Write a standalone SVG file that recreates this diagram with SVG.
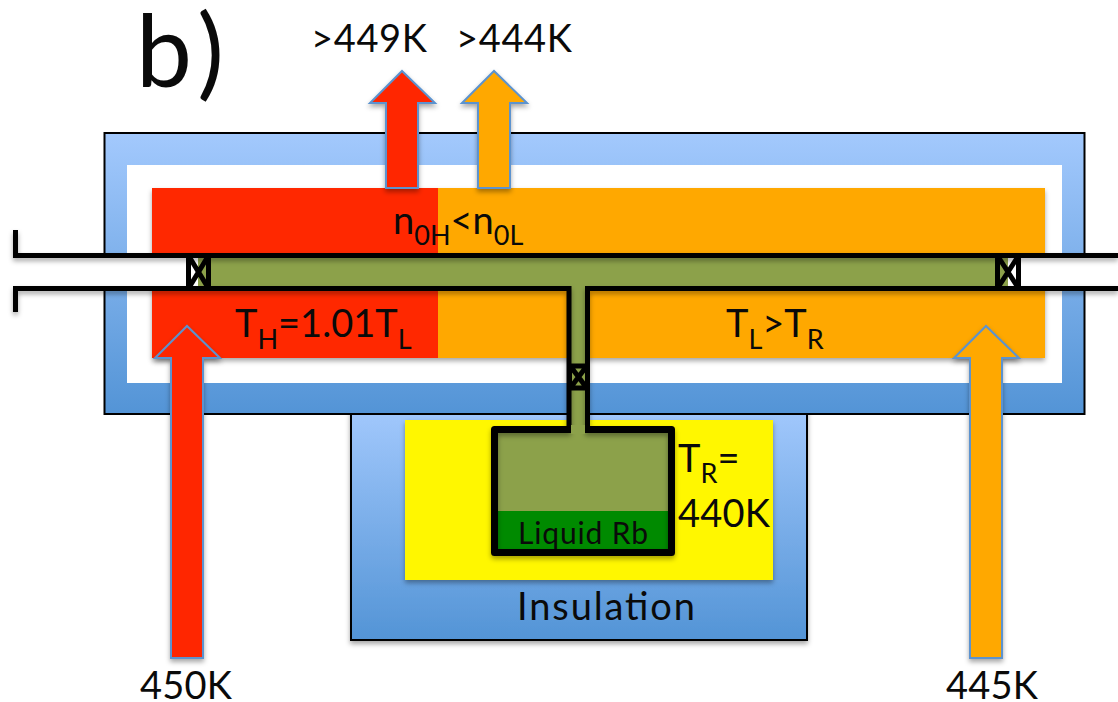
<svg xmlns="http://www.w3.org/2000/svg" width="1118" height="702" viewBox="0 0 1118 702">
<style>
text{font-family:"Lato","Open Sans","Liberation Sans",sans-serif;fill:#0a0a0a}
.t{font-size:38px}.s{font-size:27px}
.ar{stroke:#5b93cf;stroke-width:2;filter:url(#sh)}
.red{fill:#ff2800}.or{fill:#ffa800}.ol{fill:#8ca14a}
.ln{stroke:#000;fill:none}
</style>
<defs>
<linearGradient id="bl" x1="0" y1="0" x2="0" y2="1"><stop offset="0" stop-color="#a3c9fd"/><stop offset="1" stop-color="#5394d6"/></linearGradient>
<filter id="sh" x="-20%" y="-20%" width="140%" height="140%"><feDropShadow dx="0" dy="3" stdDeviation="2.500" flood-color="#000" flood-opacity=".35"/></filter>
</defs>
<rect width="1118" height="702" fill="#fff"/>
<g id="insulation-block"><rect x="351" y="405" width="456" height="235" fill="url(#bl)" stroke="#000" stroke-width="2" filter="url(#sh)"/></g>
<g id="oven"><rect x="104.500" y="133" width="980" height="281" fill="url(#bl)" stroke="#000" stroke-width="2"/>
<rect x="127" y="165" width="935" height="218" fill="#fff"/></g>
<g id="hot-zone"><rect x="152" y="188" width="893" height="170" class="or" filter="url(#sh)"/><rect x="152" y="188" width="286" height="170" class="red"/></g>
<g id="reservoir-heater"><rect x="405" y="420" width="368" height="160" fill="#fff700" filter="url(#sh)"/></g>
<g id="tube"><rect x="13" y="258" width="1105" height="28" fill="#fff"/><rect x="198" y="258" width="810" height="28" class="ol"/><rect x="571" y="284" width="14" height="150" class="ol"/>
<path class="ln" stroke-width="5" filter="url(#sh)" d="M15.500 230V255.500H1118M15.500 312V288.500H569V430M1118 288.500H587.500V430"/></g>
<g id="reservoir"><rect x="494.500" y="429.500" width="177" height="123" rx="2" class="ol"/><rect x="498" y="511" width="170" height="38" fill="#008a00"/>
<path class="ln" stroke-width="7" stroke-linejoin="round" filter="url(#sh)" d="M571 429.500H494.500V552.500H671.500V429.500H585"/><rect x="571" y="425" width="14" height="9" class="ol"/></g>
<g id="valves">
<g id="valve-left"><path class="ln" stroke-width="5" d="M188.500 256V288M208.500 256V288M190 258L207 286M207 258L190 286"/></g>
<g id="valve-right"><path class="ln" stroke-width="5" d="M997.500 254V288M1018.500 254V288M999 258L1017 286M1017 258L999 286"/></g>
<g id="valve-stem"><rect x="567" y="364" width="23" height="26" class="ol"/><path class="ln" stroke-width="5" d="M569.500 364V390M587.500 364V390M569 366H588M569 388H588M571 367L586 387M586 367L571 387"/></g>
</g>
<g id="connectors">
<path class="ar red" d="M386 188V103H370L402 71L435 103H418V188Z"/>
<path class="ar or" d="M478 188V103H462L494 71L527 103H510V188Z"/>
<path class="ar red" d="M171 658V358H155L187 326L220 358H203V658Z"/>
<path class="ar or" d="M970 658V358H954L986 326L1019 358H1002V658Z"/>
</g>
<g id="labels">
<text x="136" y="87" font-size="100" textLength="88">b)</text>
<text class="t" x="311" y="52" textLength="116">&gt;449K</text>
<text class="t" x="456" y="52" textLength="116">&gt;444K</text>
<text class="t" x="393" y="234">n<tspan class="s" dy="11">0H</tspan><tspan dy="-11">&lt;n</tspan><tspan class="s" dy="11">0L</tspan></text>
<text class="t" x="235" y="337">T<tspan class="s" dy="12">H</tspan><tspan dy="-12">=1.01T</tspan><tspan class="s" dy="12">L</tspan></text>
<text class="t" x="726" y="337">T<tspan class="s" dy="12">L</tspan><tspan dy="-12">&gt;T</tspan><tspan class="s" dy="12">R</tspan></text>
<text class="t" x="678" y="472">T<tspan class="s" dy="11">R</tspan><tspan dy="-11">=</tspan></text>
<text class="t" x="678" y="527" textLength="92">440K</text>
<text x="518" y="544" font-size="30" textLength="130">Liquid Rb</text>
<text x="517" y="620" font-size="38" textLength="178">Insulation</text>
<text class="t" x="140" y="699" textLength="92">450K</text>
<text class="t" x="946" y="699" textLength="92">445K</text>
</g>
</svg>
